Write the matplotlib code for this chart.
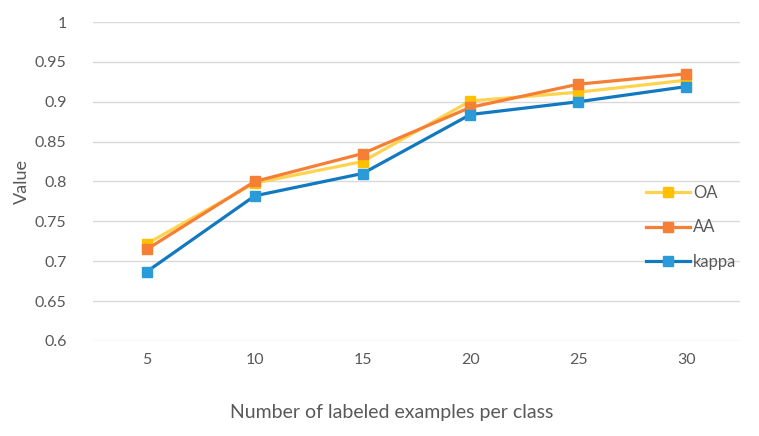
import numpy as np
import matplotlib.pyplot as plt

samples = ["5", "10", "15", "20", "25", "30"]
oa = [0.722, 0.798, 0.825, 0.901, 0.912, 0.927]
aa = [0.715, 0.800, 0.835, 0.893, 0.922, 0.935]
kappa = [0.687, 0.782, 0.810, 0.884, 0.900, 0.919]

plt.rcParams['font.family'] = ['Lato', 'DejaVu Sans']
grey = '#595959'

fig = plt.figure(figsize=(7.59, 4.36), dpi=100)
ax = fig.add_axes([0.1225, 0.218, 0.8525, 0.7315])

x = np.arange(len(samples))
series = [
    ("OA", oa, '#FFD34F', '#FFC000'),
    ("AA", aa, '#F47F35', '#F47F35'),
    ("kappa", kappa, '#1278C0', '#2A9BD8'),
]
for name, vals, lc, mc in series:
    ax.plot(x, vals, color=lc, lw=2.3, marker='s', ms=6.5,
            mfc=mc, mec=mc, label=name, solid_joinstyle='round')

ax.set_xlim(-0.5, len(samples) - 0.5)
ax.set_ylim(0.6, 1.0)
ax.set_yticks(np.arange(0.6, 1.001, 0.05))
ax.set_yticklabels(["0.6", "0.65", "0.7", "0.75", "0.8", "0.85", "0.9", "0.95", "1"])
ax.set_xticks(x)
ax.set_xticklabels(samples)
ax.grid(axis='y', color='#D9D9D9', lw=1)
ax.set_axisbelow(True)
for s in ax.spines.values():
    s.set_visible(False)
ax.tick_params(axis='both', length=0, labelsize=11.5, colors=grey)
ax.tick_params(axis='y', pad=19)
ax.tick_params(axis='x', pad=9)

ax.set_ylabel("Value", fontsize=13, color=grey)
ax.yaxis.set_label_coords(-0.098, 0.5)
ax.set_xlabel("Number of labeled examples per class", fontsize=14, color=grey)
ax.xaxis.set_label_coords(0.461, -0.197)

leg = fig.legend(loc='upper left', bbox_to_anchor=(0.832, 0.61), frameon=False,
                 fontsize=12, labelspacing=1.1, handlelength=2.6, handletextpad=0.2)
for t in leg.get_texts():
    t.set_color(grey)

fig.savefig("out.png", dpi=100)
